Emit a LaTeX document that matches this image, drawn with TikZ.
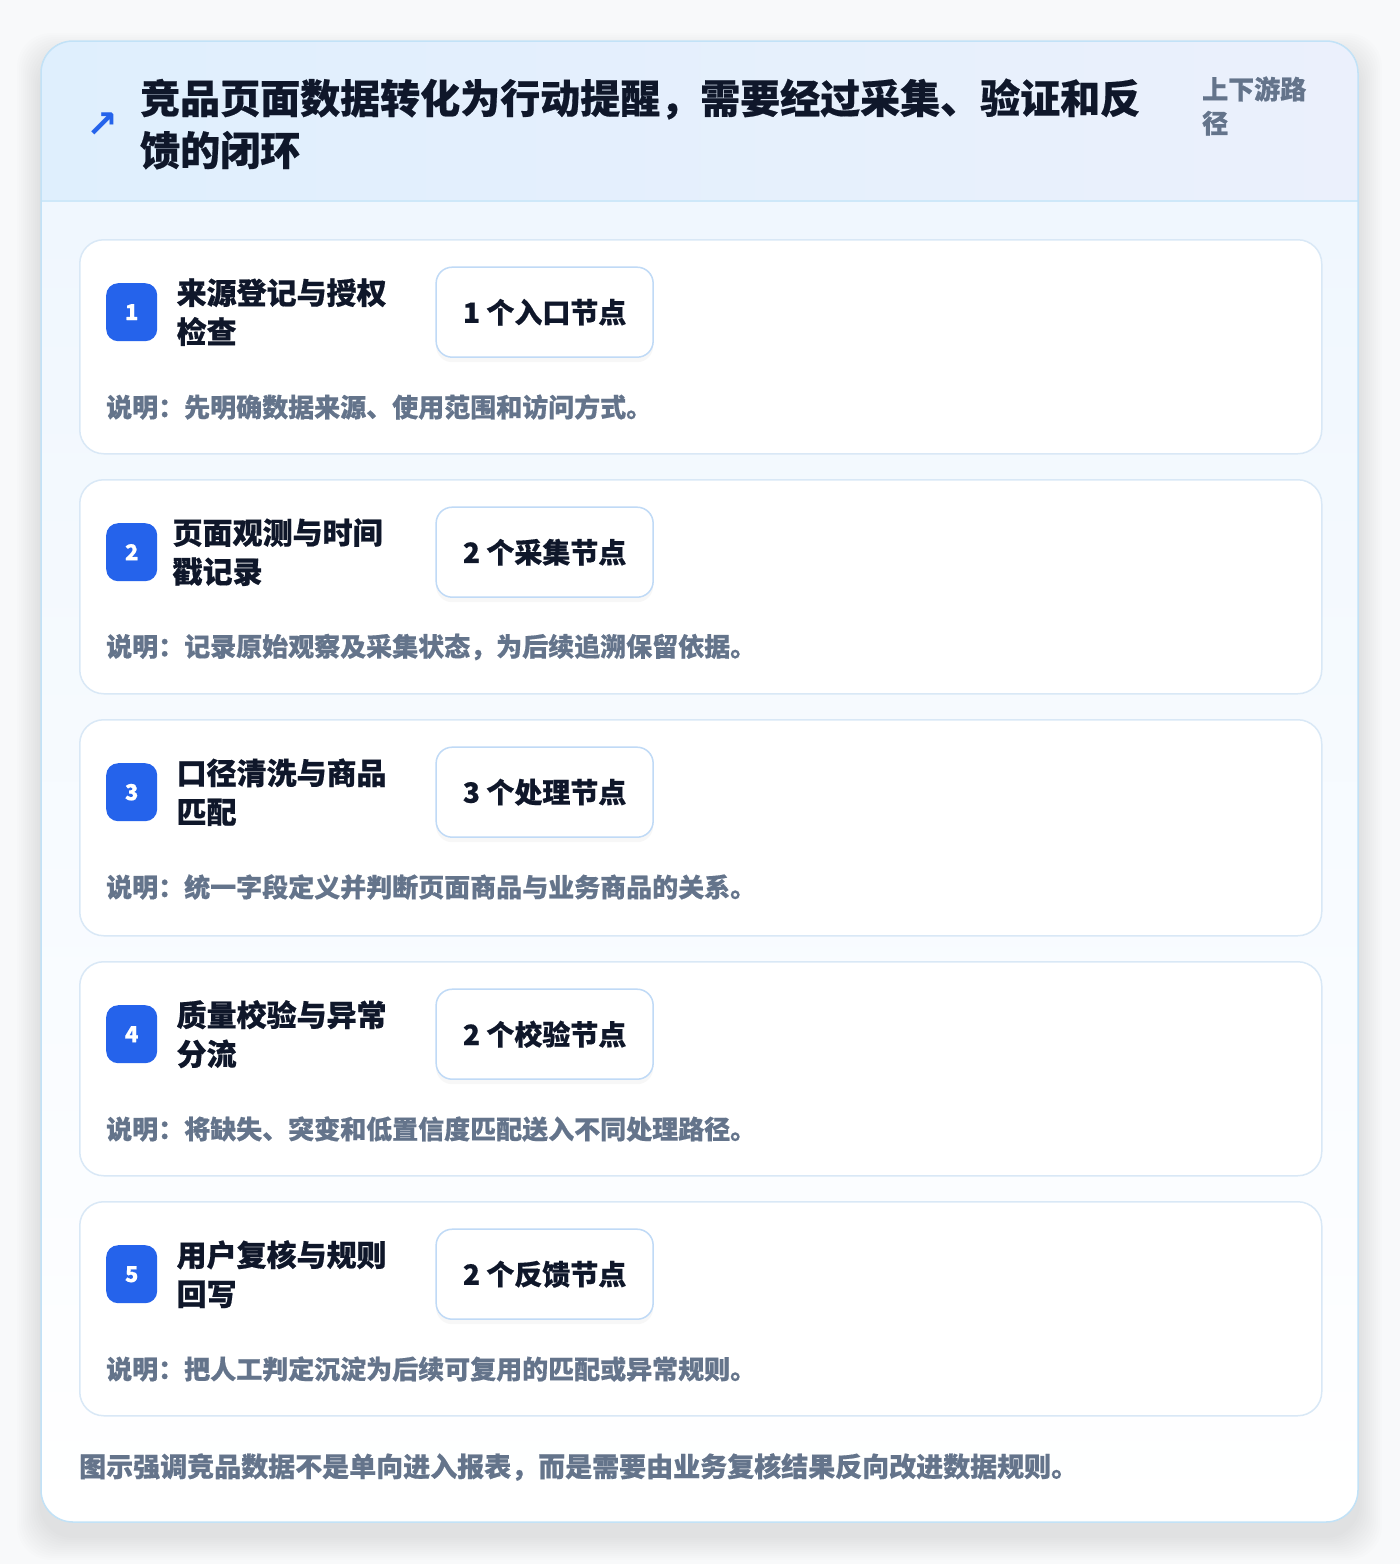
\documentclass[tikz,border=0pt]{standalone}
\usepackage{fontspec}
\setmainfont{Noto Sans CJK SC}[BoldFeatures={FakeBold=0.5}]
\newfontfamily\symfont{DejaVu Sans}
\usetikzlibrary{positioning,shadows}

\definecolor{accent}{HTML}{2563EB}
\definecolor{ink}{HTML}{0F172A}
\definecolor{muted}{HTML}{64748B}
\definecolor{frame}{HTML}{C2E2F7}
\definecolor{cardline}{HTML}{D9E8F6}
\definecolor{boxline}{HTML}{C0DAF6}
\definecolor{headL}{HTML}{DFEFFD}
\definecolor{headR}{HTML}{EBF0FC}
\definecolor{bodyT}{HTML}{EEF6FE}
\definecolor{pagebg}{HTML}{F8F9FA}

\begin{document}
\begin{tikzpicture}
    [ x=1pt, y=-1pt
    , card/.style={draw=cardline, line width=1.5pt, fill=white, rounded corners=24pt,
        minimum width=1242pt, minimum height=214pt, anchor=north west}
    , badge/.style={fill=accent, text=white, rounded corners=12pt, inner sep=0pt,
        minimum width=51pt, minimum height=58pt, font=\fontsize{22}{22}\selectfont\bfseries}
    , steptitle/.style={text=ink, align=left, inner sep=0pt, anchor=west,
        font=\fontsize{30}{39}\selectfont\bfseries}
    , countbox/.style={draw=boxline, line width=1.5pt, fill=white, rounded corners=16pt,
        minimum width=217pt, minimum height=90pt, anchor=west, text=ink,
        font=\fontsize{28}{28}\selectfont\bfseries,
        drop shadow={opacity=0.06, shadow xshift=0pt, shadow yshift=-5pt}}
    , note/.style={text=muted, inner sep=0pt, font=\fontsize{26}{26}\selectfont\bfseries}
    ]
\useasboundingbox (0,0) rectangle (1400,1564);
\fill[pagebg] (0,0) rectangle (1400,1564);
% soft shadow
\foreach \s in {4,8,...,48}
  \fill[black, opacity=0.007, rounded corners=34pt]
    ({41-\s/2},{57-\s/2}) rectangle ({1358+\s/2},{1536+\s/2});

% outer card
\fill[rounded corners=32pt, top color=bodyT, bottom color=white] (41,41) rectangle (1358,1522);
\begin{scope}
  \clip[rounded corners=32pt] (41,41) rectangle (1358,1522);
  \fill[left color=headL, right color=headR] (41,41) rectangle (1358,201);
  \draw[line width=1.5pt, frame!80] (41,201) -- (1358,201);
\end{scope}
\draw[rounded corners=32pt, frame, line width=1.5pt] (41,41) rectangle (1358,1522);

% header
\node[text=accent, inner sep=0pt, font=\symfont\bfseries\fontsize{38}{38}\selectfont] (icon) at (102,125) {↗};
\node[text=ink, align=left, inner sep=0pt, anchor=west, font=\fontsize{40}{52}\selectfont\bfseries]
  (title) at (140,124) {竞品页面数据转化为行动提醒，需要经过采集、验证和反\\馈的闭环};
\node[text=muted, align=left, inner sep=0pt, anchor=west, font=\fontsize{26}{34}\selectfont\bfseries]
  (scope) at (1202,106) {上下游路\\径};

% step 1
\node[card] (card1) at (79,239) {};
\node[badge, below right=44pt and 27pt of card1.north west] (num1) {1};
\node[steptitle, right=19pt of num1] (head1) {来源登记与授权\\检查};
\node[countbox, right=278pt of num1] (count1) {1 个入口节点};
\node[note, below right=168pt and 27pt of card1.north west, anchor=west] (note1)
  {说明：先明确数据来源、使用范围和访问方式。};

% step 2
\node[card] (card2) at (79,479) {};
\node[badge, below right=44pt and 27pt of card2.north west] (num2) {2};
\node[steptitle, right=15pt of num2] (head2) {页面观测与时间\\戳记录};
\node[countbox, right=278pt of num2] (count2) {2 个采集节点};
\node[note, below right=168pt and 27pt of card2.north west, anchor=west] (note2)
  {说明：记录原始观察及采集状态，为后续追溯保留依据。};

% step 3
\node[card, minimum height=216pt] (card3) at (79,719) {};
\node[badge, below right=44pt and 27pt of card3.north west] (num3) {3};
\node[steptitle, right=19pt of num3] (head3) {口径清洗与商品\\匹配};
\node[countbox, right=278pt of num3] (count3) {3 个处理节点};
\node[note, below right=168pt and 27pt of card3.north west, anchor=west] (note3)
  {说明：统一字段定义并判断页面商品与业务商品的关系。};

% step 4
\node[card] (card4) at (79,961) {};
\node[badge, below right=44pt and 27pt of card4.north west] (num4) {4};
\node[steptitle, right=19pt of num4] (head4) {质量校验与异常\\分流};
\node[countbox, right=278pt of num4] (count4) {2 个校验节点};
\node[note, below right=168pt and 27pt of card4.north west, anchor=west] (note4)
  {说明：将缺失、突变和低置信度匹配送入不同处理路径。};

% step 5
\node[card] (card5) at (79,1201) {};
\node[badge, below right=44pt and 27pt of card5.north west] (num5) {5};
\node[steptitle, right=19pt of num5] (head5) {用户复核与规则\\回写};
\node[countbox, right=278pt of num5] (count5) {2 个反馈节点};
\node[note, below right=168pt and 27pt of card5.north west, anchor=west] (note5)
  {说明：把人工判定沉淀为后续可复用的匹配或异常规则。};

% footer
\node[note, anchor=west, font=\fontsize{27}{27}\selectfont\bfseries] (footer) at (79,1467)
  {图示强调竞品数据不是单向进入报表，而是需要由业务复核结果反向改进数据规则。};
\end{tikzpicture}
\end{document}
